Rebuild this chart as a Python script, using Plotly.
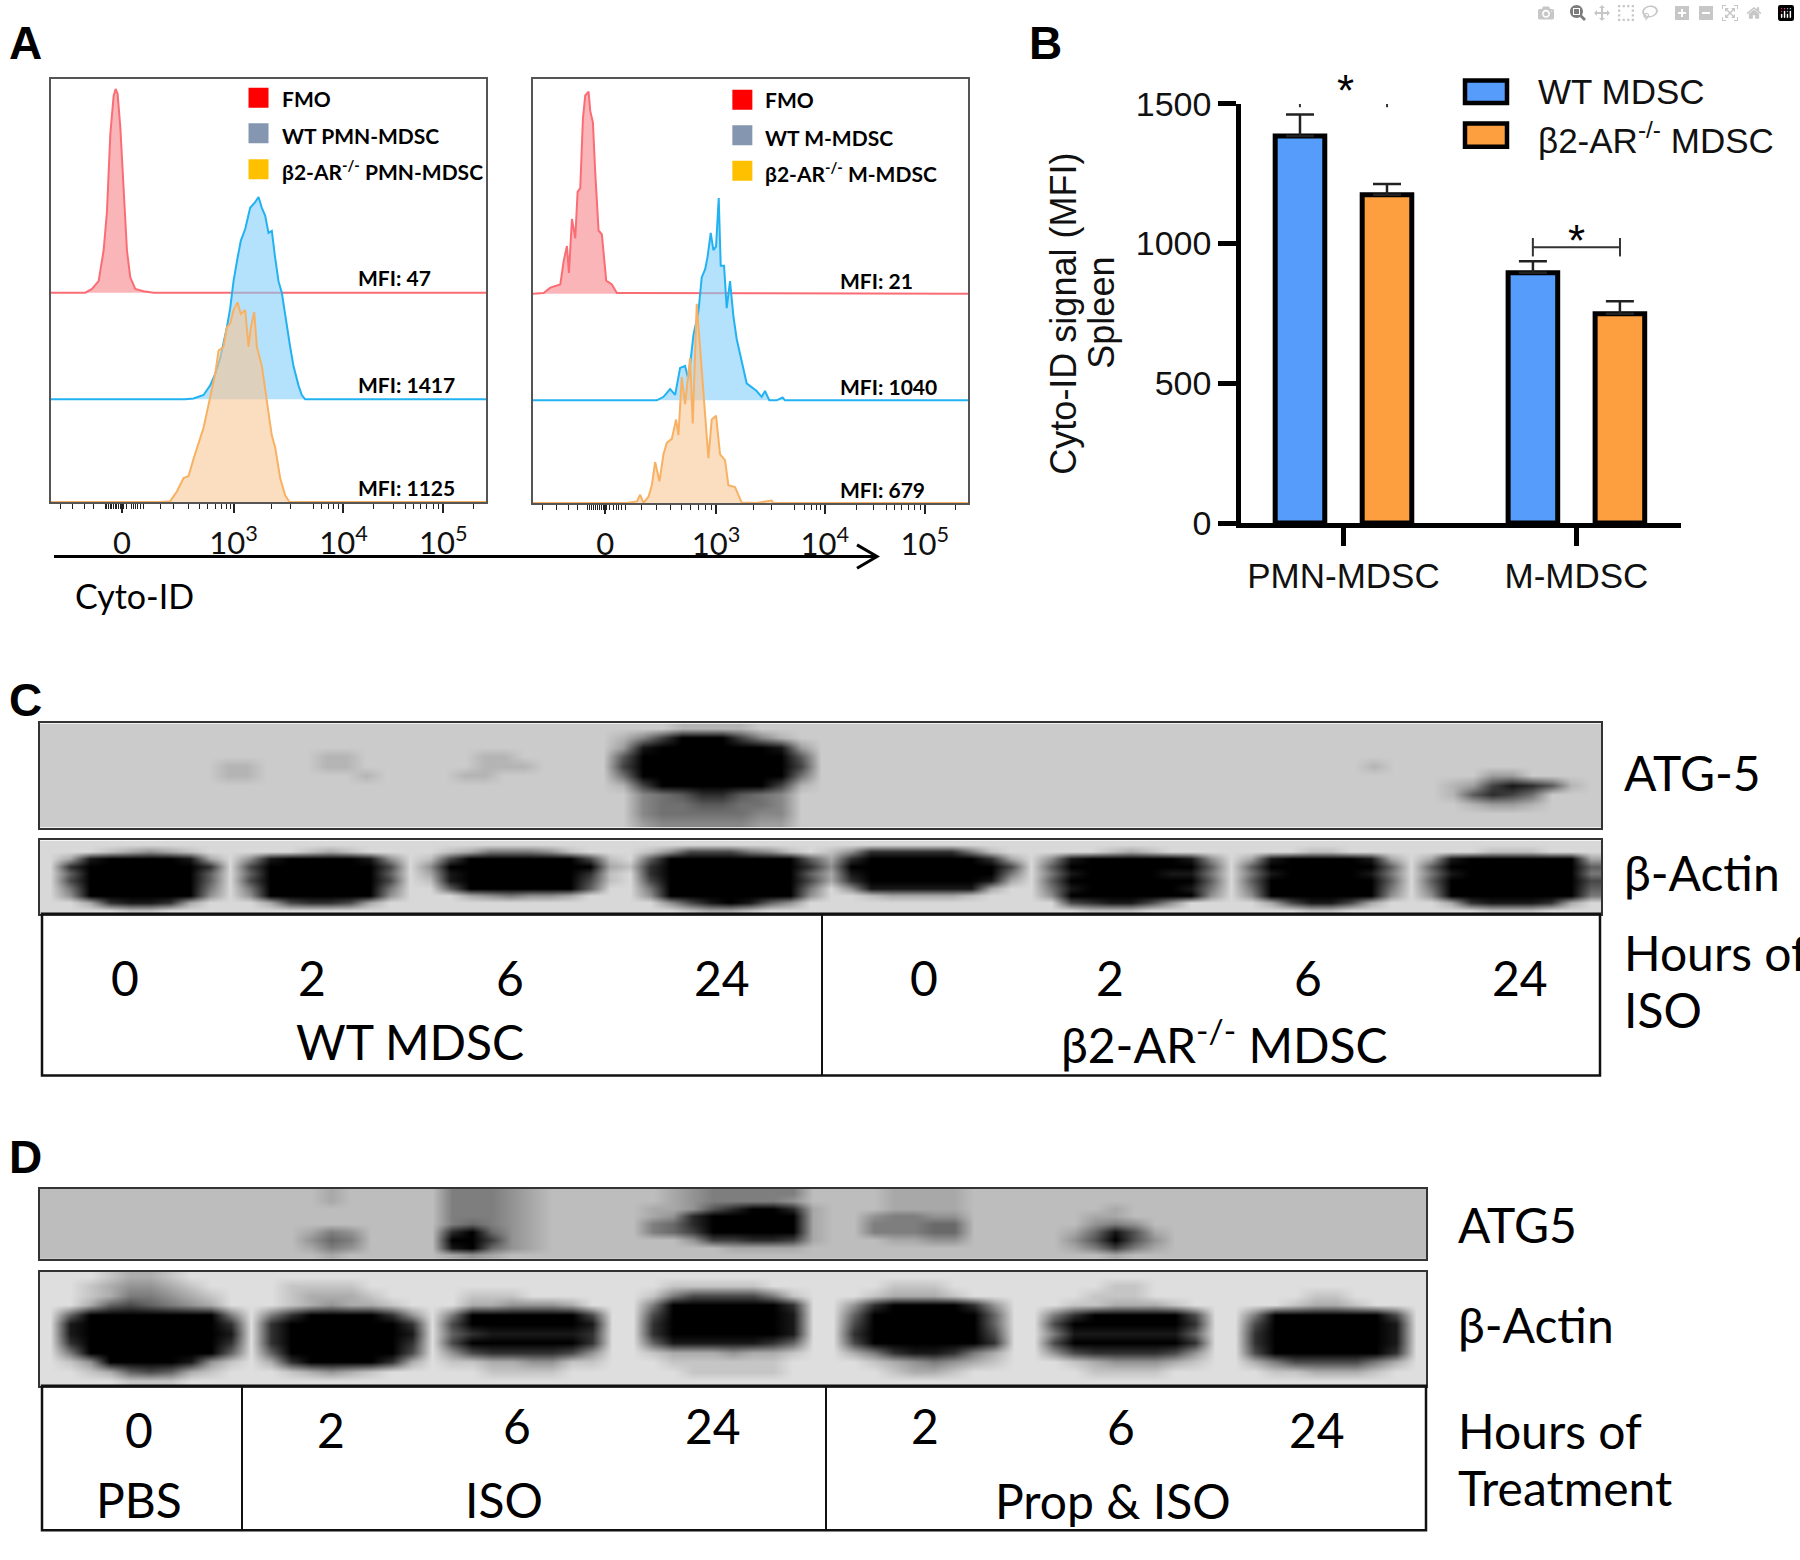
import numpy as np
import plotly.graph_objects as go

W, H = 1800, 1560
SERIF = "Lato"
ARIAL = "Liberation Sans"

# ---------- Panel A : flow histograms (x = display channel, y = normalised count)
PMN_TICKS = [365, 700, 1030, 1330]
M_TICKS = [315, 648, 975, 1275]
TICK_TEXT = ["0", "10<sup>3</sup>", "10<sup>4</sup>", "10<sup>5</sup>"]
PMN_MINOR = [180, 218, 252, 280, 315, 320, 325, 330, 335, 340, 345, 350, 355, 360, 370, 378, 395, 400, 405, 412, 420, 430,
             480, 520, 565, 598, 622, 645, 665, 680, 690, 815, 870, 940, 965, 985, 1000, 1015, 1120, 1180, 1215, 1240, 1260,
             1280, 1300, 1315, 1420]
M_MINOR = [128, 168, 205, 232, 262, 268, 274, 280, 286, 292, 298, 304, 310, 320, 328, 340, 348, 356, 365, 375, 425, 470,
           512, 545, 570, 595, 615, 635, 762, 815, 885, 915, 935, 950, 962, 1070, 1120, 1160, 1185, 1205, 1225, 1245, 1262, 1368]

PMN_RED_X = [152, 255, 275, 295, 310, 320, 330, 340, 346, 352, 360, 370, 380, 390, 405, 430, 460, 1458]
PMN_RED_Y = [0, 0, 10, 30, 110, 210, 410, 510, 528, 515, 430, 260, 110, 40, 10, 4, 0, 0]
PMN_BLUE_X = [152, 555, 580, 610, 630, 645, 660, 680, 690, 700, 712, 722, 735, 750, 765, 775, 785, 795, 805, 815, 825, 835,
              845, 855, 870, 880, 895, 905, 915, 1458]
PMN_BLUE_Y = [0, 0, 2, 11, 36, 66, 106, 186, 236, 306, 366, 411, 441, 496, 511, 524, 496, 476, 431, 436, 366, 306, 276, 216,
              136, 86, 36, 11, 0, 0]
PMN_ORANGE_X = [152, 480, 510, 530, 550, 565, 580, 600, 610, 620, 630, 645, 655, 670, 680, 690, 700, 712, 722, 735, 745, 752,
                762, 770, 785, 795, 805, 815, 825, 840, 855, 868, 1458]
PMN_ORANGE_Y = [0, 0, 2, 27, 62, 67, 112, 167, 192, 232, 272, 332, 392, 402, 452, 462, 497, 517, 487, 497, 402, 452, 492, 402,
                352, 292, 242, 172, 142, 62, 17, 0, 0]

M_RED_X = [98, 130, 150, 180, 190, 200, 206, 215, 225, 232, 240, 248, 255, 265, 270, 278, 285, 295, 305, 318, 335, 350, 380, 1405]
M_RED_Y = [0, 2, 16, 24, 84, 124, 54, 194, 144, 264, 274, 454, 514, 524, 474, 444, 314, 164, 154, 34, 24, 2, 2, 0]
M_BLUE_X = [98, 470, 490, 510, 525, 540, 555, 565, 580, 595, 605, 615, 622, 632, 640, 648, 656, 662, 672, 680, 690, 700, 710,
            725, 740, 770, 785, 795, 808, 830, 848, 855, 1405]
M_BLUE_Y = [0, 0, 9, 29, 14, 84, 89, 54, 169, 229, 319, 339, 369, 434, 389, 399, 524, 349, 349, 239, 309, 219, 159, 99, 44,
            24, 9, 24, 0, 0, 7, 0, 0]
M_ORANGE_X = [98, 380, 410, 420, 430, 445, 455, 465, 478, 490, 500, 515, 528, 535, 545, 555, 570, 578, 590, 600, 612, 625, 635,
              648, 660, 675, 685, 705, 725, 770, 815, 820, 1405]
M_ORANGE_Y = [0, 0, 4, 21, 0, 16, 46, 106, 56, 126, 156, 166, 216, 176, 326, 256, 376, 206, 516, 406, 276, 116, 216, 226, 126,
              111, 46, 41, 1, 0, 6, 0, 0]

FLOW_OFFSETS = {"red": 542, "blue": 266, "orange": 0}
FLOW_LINE = {"red": "#fa6d74", "blue": "#22b2f2", "orange": "#f8b163"}
FLOW_FILL = {"red": "rgba(248,150,155,0.7)", "blue": "rgba(130,205,250,0.6)", "orange": "rgba(249,199,149,0.6)"}
LEGEND_COLORS = ["#ff0000", "#8496b0", "#ffc000"]
PMN_LEGEND = ["FMO", "WT PMN-MDSC", "β2-AR<sup>-/-</sup> PMN-MDSC"]
M_LEGEND = ["FMO", "WT M-MDSC", "β2-AR<sup>-/-</sup> M-MDSC"]
PMN_MFI = ["MFI: 47", "MFI: 1417", "MFI: 1125"]
M_MFI = ["MFI: 21", "MFI: 1040", "MFI: 679"]

# ---------- Panel B : bars
GROUPS = ["PMN-MDSC", "M-MDSC"]
WT_VALUES = [1385, 896]
KO_VALUES = [1175, 749]
WT_ERR = [77, 41]
KO_ERR = [38, 45]
BAR_OFFSET = 0.187
BRACKET_Y = [1521, 987]

# ---------- Panels C, D : blot density (0 = background, 9 = saturated), one string per row
C_ATG5 = [
    "0000000000000000000000000000000011110000000000000000000000000000000000000000000",
    "0000000000000000000000000000013699963100000000000000000000000000000000000000000",
    "0000000000000000000000000000028999999820000000000000000000000000000000000000000",
    "0000000000000011000000110000059999999950000000000000000000000000000000000000000",
    "0000000001100011000000111000069999999960000000000000000000000000000100000000000",
    "0000000001100000100001100000049999999940000000000000000000000000000000000220000",
    "0000000000000000000000000000016999999610000000000000000000000000000000012687510",
    "0000000000000000000000000000003457754300000000000000000000000000000000015764000",
    "0000000000000000000000000000003445544300000000000000000000000000000000001221000",
    "0000000000000000000000000000003444443300000000000000000000000000000000000000000",
    "0000000000000000000000000000002333332200000000000000000000000000000000000000000",
]
C_ACTIN = [
    "0 00000000 0 00000000 0 0000000000 0000000000 0 000000000 0 000000000 0 00000000 0 000000000",
    "0 00123210 0 00012100 0 0124443100 0136664310 1 377777410 0 000121000 0 00011000 0 000111000",
    "0 28999982 0 38999983 0 1699999961 0599999995 2 799999972 0 389999983 0 28999982 0 289999992",
    "0 79999997 0 69999996 0 3999999992 1799999997 3 999999996 0 599999995 0 59999995 0 599999995",
    "0 59999995 0 59999995 0 2899999971 0799999995 2 899999994 0 489999884 0 48999984 0 489999994",
    "0 69999995 0 69999996 0 1899999961 0699999996 2 799999982 0 599999995 0 59999995 0 599999996",
    "0 49999994 0 49999994 0 0599999950 0499999994 0 388888820 0 489999984 0 49999994 0 499999995",
    "0 39999993 0 39999993 0 0023433200 0399999993 0 012222100 0 399999993 0 39999993 0 399999994",
    "0 02788720 0 02677620 0 0000000000 0036898530 0 000000000 0 067886300 0 02688620 0 027888720",
    "0 00011000 0 00000000 0 0000000000 0001221000 0 000000000 0 001110000 0 00011000 0 000111000",
]
D_ATG5 = [
    "0000000000000 010 0000 33321 00000 012333330 00 011110 0000 00000 0000000000000",
    "0000000000000 010 0000 33321 00000 012333320 00 011110 0000 00000 0000000000000",
    "0000000000000 000 0000 33321 00000 112579971 00 011110 0000 00100 0000000000000",
    "0000000000000 000 0000 33321 00000 127999991 00 233220 0000 01100 0000000000000",
    "0000000000000 000 0000 34321 00000 347999991 00 333440 0000 02320 0000000000000",
    "0000000000000 132 0000 79421 00000 346999991 00 333440 0000 14851 0000000000000",
    "0000000000000 243 0000 99621 00000 002667761 00 011220 0000 25952 0000000000000",
    "0000000000000 132 0000 89421 00000 000011110 00 000000 0000 13631 0000000000000",
    "0000000000000 010 0000 12100 00000 000000000 00 000000 0000 00100 0000000000000",
]
D_ACTIN = [
    "0 001221000 0 00000000 0 00000000 00 00000000 00 00000000 00 00000000 00 00000000 0",
    "0 012332100 0 01111000 0 00000000 00 01111100 00 00111000 00 00011000 00 00000000 0",
    "0 012443210 0 01222100 0 01110000 00 14666641 00 01222100 00 00111000 00 00011000 0",
    "0 025654320 0 01232210 0 02233320 00 49999997 00 37999973 00 01122210 00 00122100 0",
    "0 599999994 0 47999973 0 49999996 00 69999998 00 59999995 00 47999996 00 49999996 0",
    "0 899999997 0 79999997 0 69999998 00 79999998 00 69999995 00 69999997 00 69999998 0",
    "0 899999998 0 79999998 0 57888887 00 79999998 00 79999996 00 48888885 00 79999998 0",
    "0 799999997 0 79999997 0 69999997 00 58888875 00 69999997 00 69999997 00 79999998 0",
    "0 499999995 0 59999996 0 36777763 00 12223221 00 24788742 00 36777763 00 69999997 0",
    "0 139999831 0 27999972 0 11223311 00 01111110 00 01234321 00 01233321 00 24666642 0",
    "0 012565210 0 01232100 0 00111100 00 00111110 00 00122100 00 00111100 00 01122210 0",
    "0 000111000 0 00000000 0 00000000 00 00000000 00 00000000 00 00000000 00 00000000 0",
]


def px(x):
    return x / W


def py(y):
    return 1 - y / H


def dom_x(a, b):
    return [px(a), px(b)]


def dom_y(top, bottom):
    return [py(bottom), py(top)]


fig = go.Figure()
layout = dict(
    width=W, height=H, margin=dict(l=0, r=0, t=0, b=0), autosize=False,
    paper_bgcolor="white", plot_bgcolor="white", showlegend=False,
    barmode="group", bargap=0.253, bargroupgap=0.43,
)
shapes, notes = [], []


def note(x, y, text, size, family=SERIF, color="#000", anchor="center", angle=0, bold=False):
    notes.append(dict(
        xref="paper", yref="paper", x=px(x), y=py(y), text=f"<b>{text}</b>" if bold else text,
        showarrow=False, xanchor=anchor, yanchor="middle", textangle=angle,
        font=dict(size=size, family=family, color=color),
    ))


def hist(xa, ya, xs, ys, key):
    fig.add_trace(go.Scatter(
        x=xs, y=[v + FLOW_OFFSETS[key] for v in ys], mode="lines", xaxis=xa, yaxis=ya,
        fill="toself", fillcolor=FLOW_FILL[key], line=dict(color=FLOW_LINE[key], width=2), hoverinfo="skip",
    ))


def flow_panel(n, xr, yr, dx, dy, ticks, minor, curves, tick_y_font=31):
    xa, ya = f"x{n}", f"y{n}"
    for xs, ys, key in curves:
        hist(xa, ya, xs, ys, key)
    layout[f"xaxis{n}"] = dict(
        domain=dom_x(*dx), range=xr, anchor=ya, tickmode="array", tickvals=ticks, ticktext=TICK_TEXT,
        ticks="outside", ticklen=9, tickwidth=1.5, tickcolor="#222", showline=True, linecolor="#555", linewidth=2,
        mirror=True, showgrid=False, zeroline=False, tickfont=dict(size=tick_y_font, family=SERIF, color="#111"),
        ticklabelstandoff=4,
        minor=dict(tickmode="array", tickvals=minor, ticks="outside", ticklen=5, tickwidth=1.2, tickcolor="#222", showgrid=False),
    )
    layout[f"yaxis{n}"] = dict(
        domain=dom_y(*dy), range=yr, anchor=xa, showticklabels=False, ticks="", showline=True, linecolor="#555",
        linewidth=2, mirror=True, showgrid=False, zeroline=False,
    )


flow_panel("", [152, 1458], [0, 1097], (51, 486), (61, 495), PMN_TICKS, PMN_MINOR, [
    (PMN_RED_X, PMN_RED_Y, "red"), (PMN_BLUE_X, PMN_BLUE_Y, "blue"), (PMN_ORANGE_X, PMN_ORANGE_Y, "orange")])
flow_panel("2", [98, 1405], [0, 1100], (533, 968), (61, 496), M_TICKS, M_MINOR, [
    (M_RED_X, M_RED_Y, "red"), (M_BLUE_X, M_BLUE_Y, "blue"), (M_ORANGE_X, M_ORANGE_Y, "orange")])
# plain names for the first pair
layout["xaxis"] = layout.pop("xaxis")
layout["yaxis"] = layout.pop("yaxis")

for xa, ya, sx, sy in (("x", "y", 775, [1047, 955, 862]), ("x2", "y2", 727, [1045, 953, 861])):
    fig.add_trace(go.Scatter(x=[sx] * 3, y=sy, xaxis=xa, yaxis=ya, mode="markers", hoverinfo="skip",
                             marker=dict(symbol="square", size=20, color=LEGEND_COLORS)))

for text, y in zip(PMN_LEGEND, (81, 119, 155)):
    note(280, y, text, 21, anchor="left", bold=True)
for text, y in zip(M_LEGEND, (83, 121, 157)):
    note(763, y, text, 21, anchor="left", bold=True)
for text, y in zip(PMN_MFI, (265, 375, 480)):
    note(356, y, text, 21, anchor="left", bold=True)
for text, y in zip(M_MFI, (268, 377, 482)):
    note(838, y, text, 21, anchor="left", bold=True)

shapes.append(dict(type="path", xref="paper", yref="paper", line=dict(color="#000", width=3),
                   path=f"M {px(54)} {py(551)} L {px(876)} {py(551)} M {px(857)} {py(539)} L {px(877)} {py(551)} L {px(857)} {py(563)}"))
note(134, 591, "Cyto-ID", 34)

# ---------- Panel B
X_POS = [0, 1]
fig.add_trace(go.Bar(x=X_POS, y=WT_VALUES, name="WT MDSC", xaxis="x3", yaxis="y3", marker=dict(color="#559cfb", line=dict(color="#000", width=5)),
                     error_y=dict(type="data", array=WT_ERR, arrayminus=[0, 0], symmetric=False, color="#222", thickness=2.5, width=14)))
fig.add_trace(go.Bar(x=X_POS, y=KO_VALUES, name="β2-AR-/- MDSC", xaxis="x3", yaxis="y3", marker=dict(color="#fe9f3f", line=dict(color="#000", width=5)),
                     error_y=dict(type="data", array=KO_ERR, arrayminus=[0, 0], symmetric=False, color="#222", thickness=2.5, width=14)))
for pos, yb in zip(X_POS, BRACKET_Y):
    lo, hi = pos - BAR_OFFSET, pos + BAR_OFFSET
    fig.add_trace(go.Scatter(
        x=[lo, lo, None, lo, hi, None, hi, hi], y=[yb - 33, yb + 33, None, yb, yb, None, yb - 33, yb + 33],
        mode="lines", xaxis="x3", yaxis="y3", line=dict(color="#333", width=2), cliponaxis=False, hoverinfo="skip"))
layout["xaxis3"] = dict(
    domain=dom_x(1241, 1681), range=[-0.44, 1.449], anchor="y3", tickmode="array", tickvals=X_POS, ticktext=GROUPS,
    ticks="outside", ticklen=18, tickwidth=4.5, tickcolor="#000", showline=True, linecolor="#000", linewidth=4.5,
    showgrid=False, zeroline=False, tickfont=dict(size=35, family=ARIAL, color="#111"),
)
layout["yaxis3"] = dict(
    domain=dom_y(87, 516.6), range=[0, 1500], anchor="x3", tickmode="array", tickvals=[0, 500, 1000, 1500],
    ticks="outside", ticklen=18, tickwidth=4.5, tickcolor="#000", showline=True, linecolor="#000", linewidth=4.5,
    showgrid=False, zeroline=False, tickfont=dict(size=34, family=ARIAL, color="#111"),
)
note(1064, 302, "Cyto-ID signal (MFI)", 36, family=ARIAL, angle=-90, color="#111")
note(1102, 301, "Spleen", 36, family=ARIAL, angle=-90, color="#111")
note(1345, 73, "*", 44, family=ARIAL)
note(1576, 227, "*", 44, family=ARIAL)
for (top, bottom), col in (((63, 86), "#559cfb"), ((107, 131), "#fe9f3f")):
    shapes.append(dict(type="rect", xref="paper", yref="paper", x0=px(1465), x1=px(1507), y0=py(bottom), y1=py(top),
                       fillcolor=col, line=dict(color="#000", width=4.5)))
note(1536, 74, "WT MDSC", 35, family=ARIAL, anchor="left", color="#111")
note(1536, 122, "β2-AR<sup>-/-</sup> MDSC", 35, family=ARIAL, anchor="left", color="#111")


# ---------- Blots
def blot(n, rows, dx, dy, bg):
    clean = [r.replace(" ", "") for r in rows]
    ncol = max(len(r) for r in clean)
    z = [[int(c) for c in r.ljust(ncol, "0")] for r in clean]
    fig.add_trace(go.Heatmap(
        z=z, x=np.arange(ncol) + 0.5, y=np.arange(len(z)) + 0.5, xaxis=f"x{n}", yaxis=f"y{n}", zmin=0, zmax=9,
        zsmooth="best", showscale=False, hoverinfo="skip", colorscale=[[0, f"rgb({bg},{bg},{bg})"], [1, "#000"]],
    ))
    layout[f"xaxis{n}"] = dict(domain=dom_x(*dx), range=[0, ncol], anchor=f"y{n}", visible=True, showticklabels=False, ticks="",
                               showgrid=False, zeroline=False, showline=True, mirror=True, linecolor="#333", linewidth=2)
    layout[f"yaxis{n}"] = dict(domain=dom_y(*dy), range=[len(z), 0], anchor=f"x{n}", visible=True, showticklabels=False, ticks="",
                               showgrid=False, zeroline=False, showline=True, mirror=True, linecolor="#333", linewidth=2)


blot(4, C_ATG5, (40, 1601), (722, 829), 203)
blot(5, C_ACTIN, (40, 1601), (842, 917), 216)
blot(6, D_ATG5, (40, 1426), (1199, 1271), 189)
blot(7, D_ACTIN, (40, 1426), (1284, 1401), 222)


def table(x0, x1, y0, y1, dividers):
    shapes.append(dict(type="rect", xref="paper", yref="paper", x0=px(x0), x1=px(x1), y0=py(y1), y1=py(y0),
                       line=dict(color="#111", width=2.5)))
    for d in dividers:
        shapes.append(dict(type="line", xref="paper", yref="paper", x0=px(d), x1=px(d), y0=py(y1), y1=py(y0),
                           line=dict(color="#111", width=2)))


table(42, 1600, 917, 1083, [822])
table(42, 1426, 1401, 1549, [242, 826])

FS = 48
for x, t in zip((125, 312, 510, 722, 924, 1110, 1308, 1520), ("0", "2", "6", "24", "0", "2", "6", "24")):
    note(x, 982, t, FS)
note(410, 1048, "WT MDSC", FS)
note(1224, 1048, "β2-AR<sup>-/-</sup> MDSC", FS)
note(1622, 772, "ATG-5", FS, anchor="left")
note(1622, 875, "β-Actin", FS, anchor="left")
note(1622, 957, "Hours of", FS, anchor="left")
note(1622, 1015, "ISO", FS, anchor="left")

for x, y, t in ((139, 1446, "0"), (331, 1446, "2"), (517, 1442, "6"), (713, 1442, "24"), (925, 1442, "2"), (1121, 1443, "6"), (1317, 1446, "24")):
    note(x, y, t, FS)
note(139, 1517, "PBS", FS)
note(504, 1517, "ISO", FS)
note(1113, 1518, "Prop &amp; ISO", FS)
note(1456, 1236, "ATG5", FS, anchor="left")
note(1456, 1338, "β-Actin", FS, anchor="left")
note(1456, 1447, "Hours of", FS, anchor="left")
note(1456, 1505, "Treatment", FS, anchor="left")

for x, y, t in ((25, 25, "A"), (1045, 25, "B"), (25, 698, "C"), (25, 1166, "D")):
    note(x, y, t, 46, family=ARIAL, bold=True)

layout["shapes"] = shapes
layout["annotations"] = notes
fig.update_layout(**layout)
fig.write_html("out.html", post_script="document.body.style.margin='0';document.documentElement.style.overflow='hidden';")
